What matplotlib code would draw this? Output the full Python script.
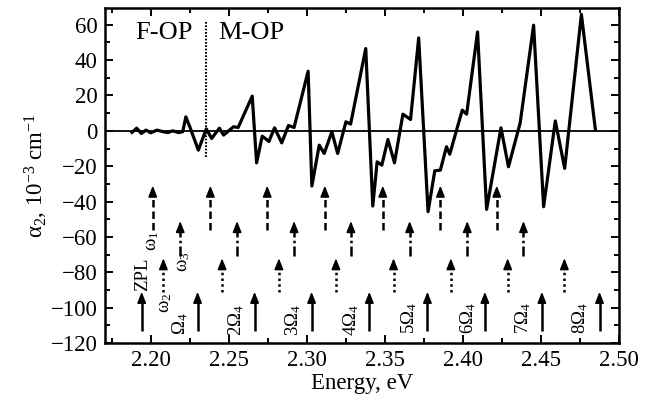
import numpy as np
import matplotlib.pyplot as plt
from matplotlib.ticker import MultipleLocator

# alpha_2 spectrum
energy = [2.188, 2.191, 2.194, 2.197, 2.200, 2.204, 2.208, 2.211, 2.214, 2.218,
          2.2205, 2.2225, 2.225, 2.2305, 2.2356, 2.239, 2.244, 2.2467, 2.253, 2.256,
          2.265, 2.2678, 2.2714, 2.2757, 2.2793, 2.2839, 2.2882, 2.2918, 2.3008, 2.3032,
          2.3079, 2.3111, 2.316, 2.3197, 2.325, 2.328, 2.3377, 2.3422, 2.345, 2.348,
          2.3519, 2.3561, 2.3615, 2.3664, 2.3716, 2.3776, 2.3819, 2.3855, 2.3894, 2.3915,
          2.3995, 2.4023, 2.4093, 2.4151, 2.4243, 2.4291, 2.4366, 2.4452, 2.4516, 2.4591,
          2.4651, 2.4758, 2.4848]
alpha2 = [-0.9, 1.5, -1.5, 0.4, -1.1, 0.4, -0.5, -1.0, 0.0, -1.0,
          -0.5, 7.9, 2.3, -10.9, 1.1, -4.3, 1.5, -2.4, 2.3, 1.9,
          19.6, -18.1, -3.0, -6.0, 1.7, -6.8, 3.0, 1.9, 33.7, -31.2,
          -8.1, -12.8, -0.5, -12.8, 5.1, 3.8, 46.5, -42.5, -17.5, -19.4,
          -4.9, -18.1, 9.4, 6.4, 52.5, -45.7, -22.6, -22.2, -9.0, -13.2,
          11.7, 9.4, 55.9, -44.4, 1.7, -20.3, 4.5, 59.7, -42.9, 5.6,
          -21.2, 65.8, 0.4]

# arrow positions (eV) for each series
big_omega_pos = [2.1942, 2.230, 2.2665, 2.303, 2.340, 2.3772, 2.414, 2.4505, 2.4874]
w1_pos = [2.2013, 2.2382, 2.2746, 2.3115, 2.3486, 2.3855, 2.4216]
w2_pos = [2.2081, 2.2457, 2.2821, 2.3186, 2.3555, 2.3922, 2.4286, 2.4649]
w3_pos = [2.2189, 2.2553, 2.2918, 2.3282, 2.3658, 2.4027, 2.4387]

# (base, tip) of the arrows
big_omega_span = (-113, -91)
w1_span = (-56, -31)
w2_span = (-91, -72)
w3_span = (-71, -51)

# rotated labels
label_text = ['ZPL', 'ω$_1$', 'ω$_2$', 'ω$_3$', 'Ω$_4$',
              '2Ω$_4$', '3Ω$_4$', '4Ω$_4$', '5Ω$_4$',
              '6Ω$_4$', '7Ω$_4$', '8Ω$_4$']
label_x = [2.1946, 2.2010, 2.2092, 2.2210, 2.2189,
           2.2545, 2.2914, 2.3282, 2.3658, 2.4033, 2.4387, 2.4751]
label_y = [-81, -62, -97, -74, -109, -107, -107, -107, -106, -106, -106, -106]

boundary = 2.2356  # F-OP / M-OP

plt.rcParams['font.family'] = ['Liberation Serif', 'DejaVu Serif']
plt.rcParams['mathtext.fontset'] = 'custom'
plt.rcParams['mathtext.rm'] = 'Liberation Serif'
plt.rcParams['mathtext.it'] = 'Liberation Serif:italic'
plt.rcParams['mathtext.default'] = 'rm'

fig = plt.figure(figsize=(6.47, 4.12), dpi=100)
ax = fig.add_axes([0.162, 0.167, 0.795, 0.814])

ax.axhline(0, color='black', lw=1.3, zorder=1)
ax.plot(energy, alpha2, color='black', lw=2.3, zorder=3)
ax.plot([boundary, boundary], [-15, 62], color='black', lw=1.5, ls=(0, (0.8, 0.8)))

ax.text(2.2087, 55, 'F-OP', fontsize=19, ha='center', va='center')
ax.text(2.2645, 55, 'M-OP', fontsize=19, ha='center', va='center')


def draw_arrows(xs, span, ls):
    base, tip = span
    for x in xs:
        ax.plot([x, x], [base, tip - 3], color='black', lw=1.8, ls=ls,
                solid_capstyle='butt', dash_capstyle='butt')
        ax.annotate('', xy=(x, tip), xytext=(x, tip - 3),
                    arrowprops=dict(arrowstyle='-|>,head_length=0.65,head_width=0.26',
                                    color='black', lw=1.2, shrinkA=0, shrinkB=0))


draw_arrows(big_omega_pos, big_omega_span, '-')
draw_arrows(w1_pos, w1_span, (0, (3, 1.6)))
draw_arrows(w2_pos, w2_span, (0, (1, 1.3)))
draw_arrows(w3_pos, w3_span, (0, (4, 1.3, 1, 1.3)))

for t, x, y in zip(label_text, label_x, label_y):
    ax.text(x, y, t, fontsize=13.5, rotation=90, ha='center', va='center')

ax.set_xlim(2.1706, 2.50)
ax.set_ylim(-120, 69.5)
ax.xaxis.set_major_locator(MultipleLocator(0.05))
ax.xaxis.set_minor_locator(MultipleLocator(0.025))
ax.yaxis.set_major_locator(MultipleLocator(20))
ax.yaxis.set_minor_locator(MultipleLocator(10))
ax.xaxis.set_major_formatter(plt.FuncFormatter(lambda v, p: f'{v:.2f}'))
ax.tick_params(which='both', direction='in', top=True, right=True, width=1.4,
               labelsize=16.5)
ax.tick_params(which='major', length=6, pad=5)
ax.tick_params(which='minor', length=3.5)
for s in ax.spines.values():
    s.set_linewidth(1.8)

ax.set_xlabel('Energy, eV', fontsize=16.5, labelpad=1)
ax.set_ylabel('α$_2$, 10$^{-3}$ cm$^{-1}$', fontsize=16.5, labelpad=1)

fig.savefig('out.png', dpi=100)
